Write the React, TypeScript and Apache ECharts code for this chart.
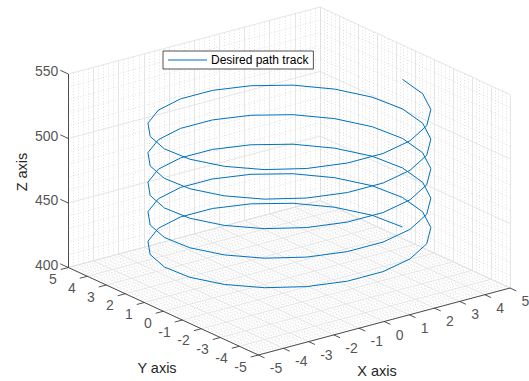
import React, { useEffect, useRef } from 'react';
import * as echarts from 'echarts';

// ---- data ----
const xTicks = [-5, -4, -3, -2, -1, 0, 1, 2, 3, 4, 5];
const yTicks = [-5, -4, -3, -2, -1, 0, 1, 2, 3, 4, 5];
const zTicks = [400, 450, 500, 550];
const seriesName = 'Desired path track';
// one turn of the helix (21 samples per turn, radius ~4.5)
const ringX = [4.5, 4.30, 3.72, 2.81, 1.64, 0.34, -1.00, -2.25, -3.30, -4.05, -4.45, -4.45, -4.05, -3.30, -2.25, -1.00, 0.34, 1.64, 2.81, 3.72, 4.30];
const ringY = [0, 1.33, 2.53, 3.52, 4.19, 4.49, 4.39, 3.90, 3.06, 1.95, 0.67, -0.67, -1.95, -3.06, -3.90, -4.39, -4.49, -4.19, -3.52, -2.53, -1.33];
const pathZ = [
  416.00, 417.09, 418.18, 419.27, 420.36, 421.45, 422.54, 423.63, 424.72, 425.81, 426.90,
  427.99, 429.08, 430.17, 431.26, 432.35, 433.44, 434.53, 435.62, 436.71, 437.80, 438.89,
  439.98, 441.07, 442.16, 443.25, 444.34, 445.43, 446.52, 447.61, 448.70, 449.79, 450.88,
  451.97, 453.06, 454.15, 455.24, 456.33, 457.42, 458.51, 459.60, 460.69, 461.78, 462.87,
  463.96, 465.05, 466.14, 467.23, 468.32, 469.41, 470.50, 471.59, 472.68, 473.77, 474.86,
  475.95, 477.04, 478.13, 479.22, 480.31, 481.40, 482.49, 483.58, 484.67, 485.76, 486.85,
  487.94, 489.03, 490.12, 491.21, 492.30, 493.39, 494.48, 495.57, 496.66, 497.75, 498.84,
  499.93, 501.02, 502.11, 503.20, 504.29, 505.38, 506.47, 507.56, 508.65, 509.74, 510.83,
  511.92, 513.01, 514.10, 515.19, 516.28, 517.37, 518.46, 519.55, 520.64, 521.73, 522.82,
  523.91, 525.00, 526.09, 527.18, 528.27, 529.36, 530.45,
];

// ---- layout / projection (orthographic view) ----
const W = 529;
const H = 381;
const ORIGIN = [289.15, 277.75];
const UX = [25.17, -6.7];
const UY = [-19.0, -8.75];
const UZ = -1.29;
const XMIN = -5, XMAX = 5, YMIN = -5, YMAX = 5, ZMIN = 400, ZMAX = 550;
const FONT = '"Liberation Sans", Arial, Helvetica, sans-serif';
const TXT = '#262626';
const BLUE = '#0072BD';

function proj(x: number, y: number, z: number): number[] {
  return [
    ORIGIN[0] + UX[0] * x + UY[0] * y,
    ORIGIN[1] + UX[1] * x + UY[1] * y + UZ * (z - ZMIN),
  ];
}

function seg(a: number[], b: number[]) {
  return { coords: [proj(a[0], a[1], a[2]), proj(b[0], b[1], b[2])] };
}

function gridSegs(xyVals: number[], zVals: number[]) {
  const out: any[] = [];
  for (const v of xyVals) {
    // floor
    out.push(seg([v, YMIN, ZMIN], [v, YMAX, ZMIN]));
    out.push(seg([XMIN, v, ZMIN], [XMAX, v, ZMIN]));
    // back-left wall (y = max)
    out.push(seg([v, YMAX, ZMIN], [v, YMAX, ZMAX]));
    // back-right wall (x = max)
    out.push(seg([XMAX, v, ZMIN], [XMAX, v, ZMAX]));
  }
  for (const z of zVals) {
    out.push(seg([XMIN, YMAX, z], [XMAX, YMAX, z]));
    out.push(seg([XMAX, YMIN, z], [XMAX, YMAX, z]));
  }
  return out;
}

export default function App() {
  const ref = useRef<HTMLDivElement>(null);
  useEffect(() => {
    if (!ref.current) return;
    const chart = echarts.init(ref.current, undefined, { renderer: 'svg' });

    const minorXY: number[] = [];
    for (let k = -25; k <= 25; k++) if (k % 5 !== 0) minorXY.push(k / 5);
    const minorZ: number[] = [];
    for (let z = ZMIN; z <= ZMAX; z += 10) if (z % 50 !== 0) minorZ.push(z);

    const majorSegs = gridSegs(xTicks, zTicks);
    const minorSegs = gridSegs(minorXY, minorZ);

    const axisSegs = [
      seg([XMIN, YMAX, ZMIN], [XMIN, YMAX, ZMAX]),
      seg([XMIN, YMAX, ZMIN], [XMIN, YMIN, ZMIN]),
      seg([XMIN, YMIN, ZMIN], [XMAX, YMIN, ZMIN]),
    ];
    const tickSegs: any[] = [];
    zTicks.forEach((z) => tickSegs.push(seg([XMIN, YMAX, z], [XMIN, YMAX + 0.42, z])));
    yTicks.forEach((y) => tickSegs.push(seg([XMIN, y, ZMIN], [XMIN - 0.3, y, ZMIN])));
    xTicks.forEach((x) => tickSegs.push(seg([x, YMIN, ZMIN], [x, YMIN - 0.33, ZMIN])));

    const helix = pathZ.map((z, i) => proj(ringX[i % ringX.length], ringY[i % ringY.length], z));

    const labelSeries = (data: any[], align: string, offset: number[]) => ({
      type: 'scatter',
      silent: true,
      symbolSize: 1,
      itemStyle: { color: 'transparent' },
      z: 5,
      data,
      label: {
        show: true,
        position: 'inside',
        formatter: '{b}',
        align,
        verticalAlign: 'middle',
        offset,
        color: TXT,
        fontSize: 14,
        fontFamily: FONT,
      },
    });

    chart.setOption({
      animation: false,
      backgroundColor: '#ffffff',
      grid: { left: 0, right: 0, top: 0, bottom: 0 },
      xAxis: { type: 'value', min: 0, max: W, show: false },
      yAxis: { type: 'value', min: 0, max: H, inverse: true, show: false },
      legend: {
        data: [{ name: seriesName, icon: 'path://M0,0H39V1H0Z' }],
        left: 163,
        top: 51,
        padding: [3, 5, 3, 5],
        itemWidth: 39,
        itemHeight: 14,
        itemGap: 0,
        selectedMode: false,
        borderColor: '#262626',
        borderWidth: 0.8,
        borderRadius: 0,
        backgroundColor: '#ffffff',
        itemStyle: { color: BLUE },
        textStyle: { fontSize: 12, color: '#000', fontFamily: FONT, padding: [0, 0, 0, -1] },
      },
      graphic: [
        {
          type: 'text', x: 22, y: 172, rotation: Math.PI / 2,
          style: { text: 'Z axis', align: 'center', verticalAlign: 'middle', fill: TXT, fontSize: 14.5, fontFamily: FONT },
        },
        {
          type: 'text', x: 157, y: 368,
          style: { text: 'Y axis', align: 'center', verticalAlign: 'middle', fill: TXT, fontSize: 14.5, fontFamily: FONT },
        },
        {
          type: 'text', x: 377, y: 371,
          style: { text: 'X axis', align: 'center', verticalAlign: 'middle', fill: TXT, fontSize: 14.5, fontFamily: FONT },
        },
      ],
      series: [
        {
          type: 'lines', coordinateSystem: 'cartesian2d', polyline: false, silent: true, z: 1,
          data: minorSegs,
          lineStyle: { color: '#cfcfcf', width: 0.6, type: [1, 2], opacity: 1 },
        },
        {
          type: 'lines', coordinateSystem: 'cartesian2d', polyline: false, silent: true, z: 2,
          data: majorSegs,
          lineStyle: { color: '#dedede', width: 0.8, type: 'solid', opacity: 1 },
        },
        {
          type: 'lines', coordinateSystem: 'cartesian2d', polyline: false, silent: true, z: 3,
          data: axisSegs.concat(tickSegs),
          lineStyle: { color: '#262626', width: 0.8, type: 'solid', opacity: 1 },
        },
        labelSeries(zTicks.map((z) => ({ name: String(z), value: proj(XMIN, YMAX, z) })), 'right', [-10, -3]),
        labelSeries(yTicks.map((y) => ({ name: String(y), value: proj(XMIN, y, ZMIN) })), 'right', [-11.5, 11.5]),
        labelSeries(xTicks.map((x) => ({ name: String(x), value: proj(x, YMIN, ZMIN) })), 'left', [11.5, 13]),
        {
          type: 'line',
          name: seriesName,
          data: helix,
          symbol: 'none',
          silent: true,
          z: 10,
          lineStyle: { color: BLUE, width: 1 },
          itemStyle: { color: BLUE },
        },
      ],
    });
    return () => chart.dispose();
  }, []);
  return (
    <div
      ref={ref}
      style={{ position: 'fixed', left: 0, top: 0, width: W, height: H, background: '#fff' }}
    />
  );
}
